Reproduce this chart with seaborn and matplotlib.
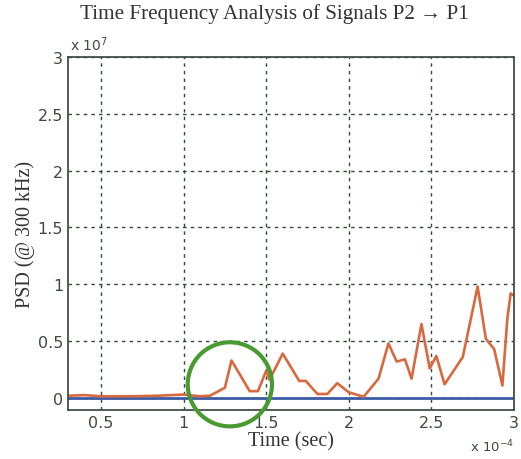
import numpy as np
import pandas as pd
import matplotlib
matplotlib.use("Agg")
import matplotlib.pyplot as plt
from matplotlib.patches import Ellipse
import seaborn as sns

# Zeitachse in 1e-4 s, PSD in 1e7
zeit_rot = [0.30, 0.40, 0.50, 0.70, 0.85, 1.00, 1.10, 1.16, 1.25, 1.29, 1.40, 1.45,
            1.50, 1.52, 1.60, 1.70, 1.74, 1.81, 1.87, 1.93, 2.00, 2.09, 2.18, 2.24,
            2.29, 2.34, 2.38, 2.44, 2.49, 2.53, 2.58, 2.69, 2.78, 2.83, 2.88, 2.93,
            2.96, 2.98, 3.00]
psd_rot = [0.02, 0.025, 0.015, 0.015, 0.02, 0.03, 0.015, 0.02, 0.09, 0.33, 0.06, 0.06,
           0.24, 0.16, 0.39, 0.15, 0.15, 0.035, 0.035, 0.13, 0.05, 0.01, 0.17, 0.48,
           0.32, 0.34, 0.17, 0.65, 0.26, 0.37, 0.12, 0.36, 0.98, 0.52, 0.43, 0.11,
           0.70, 0.92, 0.90]

zeit_blau = [0.30, 1.00, 2.00, 3.00]
psd_blau = [0.0, 0.0, 0.0, 0.0]

y_ticks = [0, 0.5, 1, 1.5, 2, 2.5, 3]
y_labels = ["0", "0.5", "1", "1.5", "2", "2.5", "3"]
x_ticks = [0.5, 1, 1.5, 2, 2.5, 3]
x_labels = ["0.5", "1", "1.5", "2", "2.5", "3"]

df_rot = pd.DataFrame({"Zeit": zeit_rot, "PSD": psd_rot})
df_blau = pd.DataFrame({"Zeit": zeit_blau, "PSD": psd_blau})

sns.set_style("white")
plt.rcParams['font.family'] = ['DejaVu Sans']

textfarbe = "#3c4a40"
fig = plt.figure(figsize=(5.21, 4.6), dpi=100)
ax = fig.add_axes([0.1305, 0.1065, 0.856, 0.7674])

sns.lineplot(data=df_blau, x="Zeit", y="PSD", ax=ax, color="#3b5ca6", linewidth=2.0)
sns.lineplot(data=df_rot, x="Zeit", y="PSD", ax=ax, color="#d8693f", linewidth=1.9)

ax.set_xlim(0.3, 3.0)
ax.set_ylim(-0.106, 3.0)
ax.set_xticks(x_ticks)
ax.set_xticklabels(x_labels)
ax.set_yticks(y_ticks)
ax.set_yticklabels(y_labels)
ax.tick_params(direction="in", length=4, colors=textfarbe, labelsize=11.5, width=1)
ax.grid(True, linestyle=(0, (2.5, 3)), color="#2f4a3a", linewidth=1.0)

for s in ax.spines.values():
    s.set_color("#3f5046")
    s.set_linewidth(1.3)

ax.set_xlabel("Time (sec)", family="Liberation Serif", fontsize=14.5, color="#333333", labelpad=1)
ax.set_ylabel("PSD (@ 300 kHz)", family="Liberation Serif", fontsize=14.5, color="#333333", labelpad=2)
fig.text(274 / 521, 1 - 14 / 460, "Time Frequency Analysis of Signals P2 \u2192 P1",
         family=["Liberation Serif", "DejaVu Sans"], fontsize=15.2, color="#333333",
         ha="center", va="center")

ax.text(0.005, 1.012, r"x 10$^{7}$", transform=ax.transAxes, fontsize=10, color=textfarbe,
        ha="left", va="bottom")
ax.text(1.0, -0.078, r"x 10$^{-4}$", transform=ax.transAxes, fontsize=9.5, color=textfarbe,
        ha="right", va="top")

# gruener Kreis als Markierung
kreis = Ellipse((1.28, 0.12), width=0.51, height=0.74, fill=False, edgecolor="#4a9a32",
                linewidth=3, clip_on=False, zorder=5)
ax.add_patch(kreis)

fig.savefig("out.png", dpi=100)
